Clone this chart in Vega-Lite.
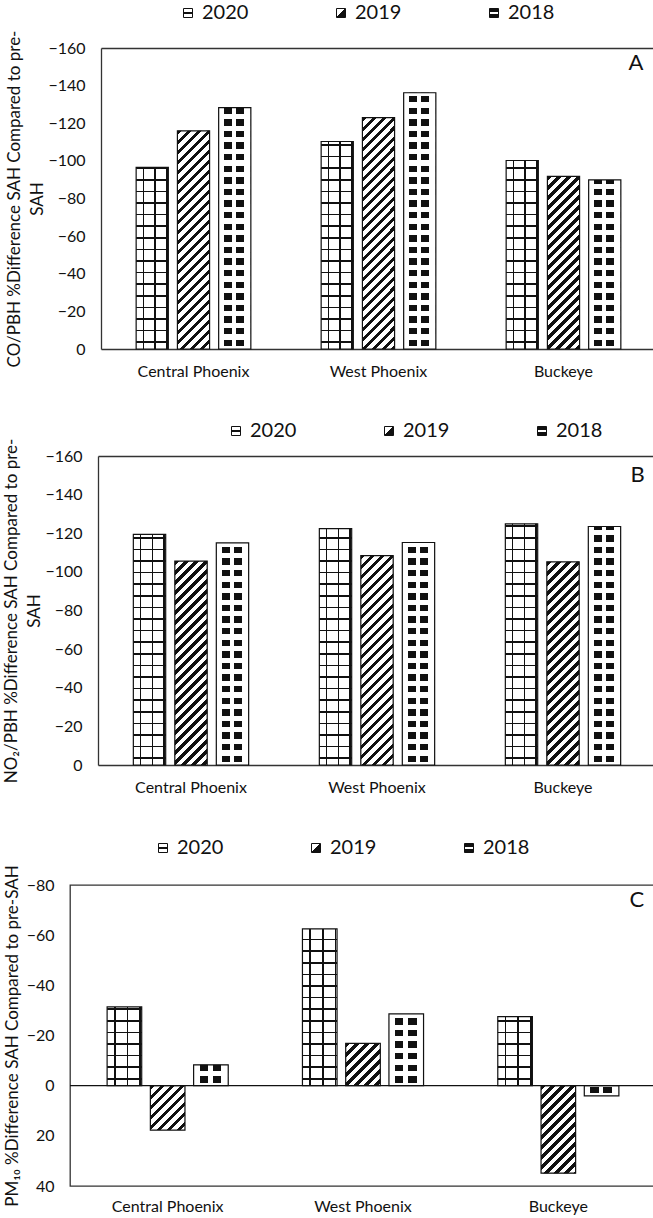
{
"$schema":"https://vega.github.io/schema/vega-lite/v6.json",
"padding":{"left":2,"top":3,"right":0,"bottom":0},
"spacing":42,
"params":[
{"name":"lg2020","value":{"gradient":"linear","x1":0,"y1":0,"x2":0,"y2":1,"stops":[{"offset":0,"color":"#fff"},{"offset":0.42,"color":"#fff"},{"offset":0.42,"color":"#111"},{"offset":0.58,"color":"#111"},{"offset":0.58,"color":"#fff"},{"offset":1,"color":"#fff"}]}},
{"name":"lg2019","value":{"gradient":"linear","x1":0,"y1":0,"x2":1,"y2":1,"stops":[{"offset":0,"color":"#fff"},{"offset":0.45,"color":"#fff"},{"offset":0.45,"color":"#111"},{"offset":1,"color":"#111"}]}},
{"name":"lg2018","value":{"gradient":"linear","x1":0,"y1":0,"x2":0,"y2":1,"stops":[{"offset":0,"color":"#111"},{"offset":0.4,"color":"#111"},{"offset":0.4,"color":"#fff"},{"offset":0.6,"color":"#fff"},{"offset":0.6,"color":"#111"},{"offset":1,"color":"#111"}]}},
{"name":"vgrid","value":{"gradient":"linear","x1":0,"y1":0,"x2":1,"y2":0,"stops":[{"offset":0,"color":"#fff"},{"offset":0.2,"color":"#fff"},{"offset":0.2,"color":"#111"},{"offset":0.245,"color":"#111"},{"offset":0.245,"color":"#fff"},{"offset":0.565,"color":"#fff"},{"offset":0.565,"color":"#111"},{"offset":0.61,"color":"#111"},{"offset":0.61,"color":"#fff"},{"offset":0.93,"color":"#fff"},{"offset":0.93,"color":"#111"},{"offset":0.975,"color":"#111"},{"offset":0.975,"color":"#fff"},{"offset":1,"color":"#fff"}]}},
{"name":"vdiam","value":{"gradient":"linear","x1":0,"y1":0,"x2":1,"y2":0,"stops":[{"offset":0,"color":"#fff"},{"offset":0.17,"color":"#fff"},{"offset":0.17,"color":"#111"},{"offset":0.42,"color":"#111"},{"offset":0.42,"color":"#fff"},{"offset":0.55,"color":"#fff"},{"offset":0.55,"color":"#111"},{"offset":0.8,"color":"#111"},{"offset":0.8,"color":"#fff"},{"offset":1,"color":"#fff"}]}},
{"name":"hline","value":[{"offset":0,"color":"transparent"},
{"offset":0.02,"color":"transparent"},{"offset":0.02,"color":"#111"},{"offset":0.0253,"color":"#111"},{"offset":0.0253,"color":"transparent"},
{"offset":0.0587,"color":"transparent"},{"offset":0.0587,"color":"#111"},{"offset":0.064,"color":"#111"},{"offset":0.064,"color":"transparent"},
{"offset":0.0973,"color":"transparent"},{"offset":0.0973,"color":"#111"},{"offset":0.1026,"color":"#111"},{"offset":0.1026,"color":"transparent"},
{"offset":0.136,"color":"transparent"},{"offset":0.136,"color":"#111"},{"offset":0.1413,"color":"#111"},{"offset":0.1413,"color":"transparent"},
{"offset":0.1747,"color":"transparent"},{"offset":0.1747,"color":"#111"},{"offset":0.18,"color":"#111"},{"offset":0.18,"color":"transparent"},
{"offset":0.2133,"color":"transparent"},{"offset":0.2133,"color":"#111"},{"offset":0.2186,"color":"#111"},{"offset":0.2186,"color":"transparent"},
{"offset":0.252,"color":"transparent"},{"offset":0.252,"color":"#111"},{"offset":0.2573,"color":"#111"},{"offset":0.2573,"color":"transparent"},
{"offset":0.2907,"color":"transparent"},{"offset":0.2907,"color":"#111"},{"offset":0.296,"color":"#111"},{"offset":0.296,"color":"transparent"},
{"offset":0.3293,"color":"transparent"},{"offset":0.3293,"color":"#111"},{"offset":0.3346,"color":"#111"},{"offset":0.3346,"color":"transparent"},
{"offset":0.368,"color":"transparent"},{"offset":0.368,"color":"#111"},{"offset":0.3733,"color":"#111"},{"offset":0.3733,"color":"transparent"},
{"offset":0.4067,"color":"transparent"},{"offset":0.4067,"color":"#111"},{"offset":0.412,"color":"#111"},{"offset":0.412,"color":"transparent"},
{"offset":0.4453,"color":"transparent"},{"offset":0.4453,"color":"#111"},{"offset":0.4506,"color":"#111"},{"offset":0.4506,"color":"transparent"},
{"offset":0.484,"color":"transparent"},{"offset":0.484,"color":"#111"},{"offset":0.4893,"color":"#111"},{"offset":0.4893,"color":"transparent"},
{"offset":0.5227,"color":"transparent"},{"offset":0.5227,"color":"#111"},{"offset":0.528,"color":"#111"},{"offset":0.528,"color":"transparent"},
{"offset":0.5613,"color":"transparent"},{"offset":0.5613,"color":"#111"},{"offset":0.5666,"color":"#111"},{"offset":0.5666,"color":"transparent"},
{"offset":0.6,"color":"transparent"},{"offset":0.6,"color":"#111"},{"offset":0.6053,"color":"#111"},{"offset":0.6053,"color":"transparent"},
{"offset":0.6387,"color":"transparent"},{"offset":0.6387,"color":"#111"},{"offset":0.644,"color":"#111"},{"offset":0.644,"color":"transparent"},
{"offset":0.6773,"color":"transparent"},{"offset":0.6773,"color":"#111"},{"offset":0.6826,"color":"#111"},{"offset":0.6826,"color":"transparent"},
{"offset":0.716,"color":"transparent"},{"offset":0.716,"color":"#111"},{"offset":0.7213,"color":"#111"},{"offset":0.7213,"color":"transparent"},
{"offset":0.7547,"color":"transparent"},{"offset":0.7547,"color":"#111"},{"offset":0.76,"color":"#111"},{"offset":0.76,"color":"transparent"},
{"offset":0.7933,"color":"transparent"},{"offset":0.7933,"color":"#111"},{"offset":0.7986,"color":"#111"},{"offset":0.7986,"color":"transparent"},
{"offset":0.832,"color":"transparent"},{"offset":0.832,"color":"#111"},{"offset":0.8373,"color":"#111"},{"offset":0.8373,"color":"transparent"},
{"offset":0.8707,"color":"transparent"},{"offset":0.8707,"color":"#111"},{"offset":0.876,"color":"#111"},{"offset":0.876,"color":"transparent"},
{"offset":0.9093,"color":"transparent"},{"offset":0.9093,"color":"#111"},{"offset":0.9146,"color":"#111"},{"offset":0.9146,"color":"transparent"},
{"offset":0.948,"color":"transparent"},{"offset":0.948,"color":"#111"},{"offset":0.9533,"color":"#111"},{"offset":0.9533,"color":"transparent"},
{"offset":0.9867,"color":"transparent"},{"offset":0.9867,"color":"#111"},{"offset":0.992,"color":"#111"},{"offset":0.992,"color":"transparent"},
{"offset":1,"color":"transparent"}]},
{"name":"hband","value":[{"offset":0,"color":"#fff"},
{"offset":0.01,"color":"#fff"},{"offset":0.01,"color":"transparent"},{"offset":0.0313,"color":"transparent"},{"offset":0.0313,"color":"#fff"},
{"offset":0.0487,"color":"#fff"},{"offset":0.0487,"color":"transparent"},{"offset":0.07,"color":"transparent"},{"offset":0.07,"color":"#fff"},
{"offset":0.0873,"color":"#fff"},{"offset":0.0873,"color":"transparent"},{"offset":0.1087,"color":"transparent"},{"offset":0.1087,"color":"#fff"},
{"offset":0.126,"color":"#fff"},{"offset":0.126,"color":"transparent"},{"offset":0.1473,"color":"transparent"},{"offset":0.1473,"color":"#fff"},
{"offset":0.1647,"color":"#fff"},{"offset":0.1647,"color":"transparent"},{"offset":0.186,"color":"transparent"},{"offset":0.186,"color":"#fff"},
{"offset":0.2033,"color":"#fff"},{"offset":0.2033,"color":"transparent"},{"offset":0.2247,"color":"transparent"},{"offset":0.2247,"color":"#fff"},
{"offset":0.242,"color":"#fff"},{"offset":0.242,"color":"transparent"},{"offset":0.2633,"color":"transparent"},{"offset":0.2633,"color":"#fff"},
{"offset":0.2807,"color":"#fff"},{"offset":0.2807,"color":"transparent"},{"offset":0.302,"color":"transparent"},{"offset":0.302,"color":"#fff"},
{"offset":0.3193,"color":"#fff"},{"offset":0.3193,"color":"transparent"},{"offset":0.3407,"color":"transparent"},{"offset":0.3407,"color":"#fff"},
{"offset":0.358,"color":"#fff"},{"offset":0.358,"color":"transparent"},{"offset":0.3793,"color":"transparent"},{"offset":0.3793,"color":"#fff"},
{"offset":0.3967,"color":"#fff"},{"offset":0.3967,"color":"transparent"},{"offset":0.418,"color":"transparent"},{"offset":0.418,"color":"#fff"},
{"offset":0.4353,"color":"#fff"},{"offset":0.4353,"color":"transparent"},{"offset":0.4567,"color":"transparent"},{"offset":0.4567,"color":"#fff"},
{"offset":0.474,"color":"#fff"},{"offset":0.474,"color":"transparent"},{"offset":0.4953,"color":"transparent"},{"offset":0.4953,"color":"#fff"},
{"offset":0.5127,"color":"#fff"},{"offset":0.5127,"color":"transparent"},{"offset":0.534,"color":"transparent"},{"offset":0.534,"color":"#fff"},
{"offset":0.5513,"color":"#fff"},{"offset":0.5513,"color":"transparent"},{"offset":0.5727,"color":"transparent"},{"offset":0.5727,"color":"#fff"},
{"offset":0.59,"color":"#fff"},{"offset":0.59,"color":"transparent"},{"offset":0.6113,"color":"transparent"},{"offset":0.6113,"color":"#fff"},
{"offset":0.6287,"color":"#fff"},{"offset":0.6287,"color":"transparent"},{"offset":0.65,"color":"transparent"},{"offset":0.65,"color":"#fff"},
{"offset":0.6673,"color":"#fff"},{"offset":0.6673,"color":"transparent"},{"offset":0.6887,"color":"transparent"},{"offset":0.6887,"color":"#fff"},
{"offset":0.706,"color":"#fff"},{"offset":0.706,"color":"transparent"},{"offset":0.7273,"color":"transparent"},{"offset":0.7273,"color":"#fff"},
{"offset":0.7447,"color":"#fff"},{"offset":0.7447,"color":"transparent"},{"offset":0.766,"color":"transparent"},{"offset":0.766,"color":"#fff"},
{"offset":0.7833,"color":"#fff"},{"offset":0.7833,"color":"transparent"},{"offset":0.8047,"color":"transparent"},{"offset":0.8047,"color":"#fff"},
{"offset":0.822,"color":"#fff"},{"offset":0.822,"color":"transparent"},{"offset":0.8433,"color":"transparent"},{"offset":0.8433,"color":"#fff"},
{"offset":0.8607,"color":"#fff"},{"offset":0.8607,"color":"transparent"},{"offset":0.882,"color":"transparent"},{"offset":0.882,"color":"#fff"},
{"offset":0.8993,"color":"#fff"},{"offset":0.8993,"color":"transparent"},{"offset":0.9207,"color":"transparent"},{"offset":0.9207,"color":"#fff"},
{"offset":0.938,"color":"#fff"},{"offset":0.938,"color":"transparent"},{"offset":0.9593,"color":"transparent"},{"offset":0.9593,"color":"#fff"},
{"offset":0.9767,"color":"#fff"},{"offset":0.9767,"color":"transparent"},{"offset":0.998,"color":"transparent"},{"offset":0.998,"color":"#fff"},
{"offset":1,"color":"#fff"}]},
{"name":"dstops","value":[{"offset":0,"color":"#111"},{"offset":0.0141,"color":"#111"},{"offset":0.0141,"color":"#fff"},
{"offset":0.0313,"color":"#fff"},{"offset":0.0313,"color":"#111"},{"offset":0.0453,"color":"#111"},{"offset":0.0453,"color":"#fff"},
{"offset":0.0625,"color":"#fff"},{"offset":0.0625,"color":"#111"},{"offset":0.0766,"color":"#111"},{"offset":0.0766,"color":"#fff"},
{"offset":0.0938,"color":"#fff"},{"offset":0.0938,"color":"#111"},{"offset":0.1078,"color":"#111"},{"offset":0.1078,"color":"#fff"},
{"offset":0.125,"color":"#fff"},{"offset":0.125,"color":"#111"},{"offset":0.1391,"color":"#111"},{"offset":0.1391,"color":"#fff"},
{"offset":0.1563,"color":"#fff"},{"offset":0.1563,"color":"#111"},{"offset":0.1703,"color":"#111"},{"offset":0.1703,"color":"#fff"},
{"offset":0.1875,"color":"#fff"},{"offset":0.1875,"color":"#111"},{"offset":0.2016,"color":"#111"},{"offset":0.2016,"color":"#fff"},
{"offset":0.2188,"color":"#fff"},{"offset":0.2188,"color":"#111"},{"offset":0.2328,"color":"#111"},{"offset":0.2328,"color":"#fff"},
{"offset":0.25,"color":"#fff"},{"offset":0.25,"color":"#111"},{"offset":0.2641,"color":"#111"},{"offset":0.2641,"color":"#fff"},
{"offset":0.2813,"color":"#fff"},{"offset":0.2813,"color":"#111"},{"offset":0.2953,"color":"#111"},{"offset":0.2953,"color":"#fff"},
{"offset":0.3125,"color":"#fff"},{"offset":0.3125,"color":"#111"},{"offset":0.3266,"color":"#111"},{"offset":0.3266,"color":"#fff"},
{"offset":0.3438,"color":"#fff"},{"offset":0.3438,"color":"#111"},{"offset":0.3578,"color":"#111"},{"offset":0.3578,"color":"#fff"},
{"offset":0.375,"color":"#fff"},{"offset":0.375,"color":"#111"},{"offset":0.3891,"color":"#111"},{"offset":0.3891,"color":"#fff"},
{"offset":0.4063,"color":"#fff"},{"offset":0.4063,"color":"#111"},{"offset":0.4203,"color":"#111"},{"offset":0.4203,"color":"#fff"},
{"offset":0.4375,"color":"#fff"},{"offset":0.4375,"color":"#111"},{"offset":0.4516,"color":"#111"},{"offset":0.4516,"color":"#fff"},
{"offset":0.4688,"color":"#fff"},{"offset":0.4688,"color":"#111"},{"offset":0.4828,"color":"#111"},{"offset":0.4828,"color":"#fff"},
{"offset":0.5,"color":"#fff"},{"offset":0.5,"color":"#111"},{"offset":0.5141,"color":"#111"},{"offset":0.5141,"color":"#fff"},
{"offset":0.5313,"color":"#fff"},{"offset":0.5313,"color":"#111"},{"offset":0.5453,"color":"#111"},{"offset":0.5453,"color":"#fff"},
{"offset":0.5625,"color":"#fff"},{"offset":0.5625,"color":"#111"},{"offset":0.5766,"color":"#111"},{"offset":0.5766,"color":"#fff"},
{"offset":0.5938,"color":"#fff"},{"offset":0.5938,"color":"#111"},{"offset":0.6078,"color":"#111"},{"offset":0.6078,"color":"#fff"},
{"offset":0.625,"color":"#fff"},{"offset":0.625,"color":"#111"},{"offset":0.6391,"color":"#111"},{"offset":0.6391,"color":"#fff"},
{"offset":0.6563,"color":"#fff"},{"offset":0.6563,"color":"#111"},{"offset":0.6703,"color":"#111"},{"offset":0.6703,"color":"#fff"},
{"offset":0.6875,"color":"#fff"},{"offset":0.6875,"color":"#111"},{"offset":0.7016,"color":"#111"},{"offset":0.7016,"color":"#fff"},
{"offset":0.7188,"color":"#fff"},{"offset":0.7188,"color":"#111"},{"offset":0.7328,"color":"#111"},{"offset":0.7328,"color":"#fff"},
{"offset":0.75,"color":"#fff"},{"offset":0.75,"color":"#111"},{"offset":0.7641,"color":"#111"},{"offset":0.7641,"color":"#fff"},
{"offset":0.7813,"color":"#fff"},{"offset":0.7813,"color":"#111"},{"offset":0.7953,"color":"#111"},{"offset":0.7953,"color":"#fff"},
{"offset":0.8125,"color":"#fff"},{"offset":0.8125,"color":"#111"},{"offset":0.8266,"color":"#111"},{"offset":0.8266,"color":"#fff"},
{"offset":0.8438,"color":"#fff"},{"offset":0.8438,"color":"#111"},{"offset":0.8578,"color":"#111"},{"offset":0.8578,"color":"#fff"},
{"offset":0.875,"color":"#fff"},{"offset":0.875,"color":"#111"},{"offset":0.8891,"color":"#111"},{"offset":0.8891,"color":"#fff"},
{"offset":0.9063,"color":"#fff"},{"offset":0.9063,"color":"#111"},{"offset":0.9203,"color":"#111"},{"offset":0.9203,"color":"#fff"},
{"offset":0.9375,"color":"#fff"},{"offset":0.9375,"color":"#111"},{"offset":0.9516,"color":"#111"},{"offset":0.9516,"color":"#fff"},
{"offset":0.9688,"color":"#fff"},{"offset":0.9688,"color":"#111"},{"offset":0.9828,"color":"#111"},{"offset":0.9828,"color":"#fff"},
{"offset":1,"color":"#fff"}]}
],
"resolve":{"scale":{"fill":"independent","x":"independent","y":"independent","xOffset":"independent"},"legend":{"fill":"independent"}},
"vconcat":[
{
"width":586,"height":301,"view":{"stroke":null},
"resolve":{"axis":{"x":"independent"}},
"data":{"values":[
{"site":"Central Phoenix","year":2020,"value":-96.5},{"site":"Central Phoenix","year":2019,"value":-116},{"site":"Central Phoenix","year":2018,"value":-128.3},
{"site":"West Phoenix","year":2020,"value":-110.3},{"site":"West Phoenix","year":2019,"value":-123},{"site":"West Phoenix","year":2018,"value":-136.2},
{"site":"Buckeye","year":2020,"value":-100.2},{"site":"Buckeye","year":2019,"value":-91.8},{"site":"Buckeye","year":2018,"value":-89.9}]},
"layer":[
{"mark":{"type":"bar"},
"encoding":{
"x":{"field":"site","type":"nominal","scale":{"domain":["Central Phoenix","West Phoenix","Buckeye"],"range":[31,586],"paddingInner":0.38,"paddingOuter":0.19},"axis":{"title":null,"labelAngle":0,"labelPadding":14,"domain":true,"domainColor":"#333","domainWidth":1.3}},
"xOffset":{"field":"year","type":"nominal","scale":{"domain":[2020,2019,2018],"paddingInner":0.22,"paddingOuter":0}},
"y":{"field":"value","type":"quantitative","scale":{"domain":[-160,0],"reverse":true,"nice":false},"axis":{"values":[-160,-140,-120,-100,-80,-60,-40,-20,0],"tickCount":12,"offset":-31,"domain":true,"domainColor":"#333","domainWidth":1.3,"title":["CO/PBH %Difference SAH Compared to pre-","SAH"],"labelPadding":16,"titlePadding":1,"titleLineHeight":23,"labelFlush":false,"labelOverlap":false}},
"fill":{"field":"year","type":"nominal","scale":{"domain":[2020,2019,2018],"range":[{"expr":"lg2020"},{"expr":"lg2019"},{"expr":"lg2018"}]},
"legend":{"title":null,"orient":"none","legendX":108,"legendY":-45,"direction":"horizontal","symbolType":"square","symbolSize":81,"symbolStrokeColor":"#111","symbolStrokeWidth":1,"labelFontSize":20,"labelFont":"Lato","labelOffset":4,"columnPadding":82,"labelColor":"#111"}}}},
{"mark":{"type":"bar","fill":{"expr":"datum.year == 2019 ? {gradient: 'linear', x1: 0, y1: 0, x2: 320 * 32.2 / (1036.8 + pow(abs(datum.value) * 1.88125, 2)), y2: 320 * abs(datum.value) * 1.88125 / (1036.8 + pow(abs(datum.value) * 1.88125, 2)), stops: dstops} : (datum.year == 2020 ? vgrid : vdiam)"}},
"encoding":{"x":{"field":"site","type":"nominal","axis":{"orient":"top","labels":false,"ticks":false,"title":null,"domain":true,"domainColor":"#333","domainWidth":1.3}},"xOffset":{"field":"year","type":"nominal"},"y":{"field":"value","type":"quantitative"}}},
{"mark":{"type":"bar","stroke":"#111","strokeWidth":1.2,"fill":{"expr":"datum.year == 2019 ? 'transparent' : {gradient: 'linear', x1: 0, y1: 1, x2: 0, y2: 1 - 300 / (abs(datum.value) * 1.88125), stops: datum.year == 2020 ? hline : hband}"}},
"encoding":{"x":{"field":"site","type":"nominal","axis":null},"xOffset":{"field":"year","type":"nominal"},"y":{"field":"value","type":"quantitative"}}},
{"data":{"values":[{}]},"mark":{"type":"text","font":"Lato","fontSize":22,"align":"center","baseline":"middle","dx":15,"color":"#111"},"encoding":{"x":{"datum":"Buckeye","type":"nominal","bandPosition":1,"axis":null},"y":{"datum":-152,"type":"quantitative"},"text":{"value":"A"}}}
]},
{
"width":586,"height":309,"view":{"stroke":null},
"resolve":{"axis":{"x":"independent"}},
"data":{"values":[
{"site":"Central Phoenix","year":2020,"value":-119.4},{"site":"Central Phoenix","year":2019,"value":-105.6},{"site":"Central Phoenix","year":2018,"value":-115},
{"site":"West Phoenix","year":2020,"value":-122.4},{"site":"West Phoenix","year":2019,"value":-108.4},{"site":"West Phoenix","year":2018,"value":-115.2},
{"site":"Buckeye","year":2020,"value":-124.9},{"site":"Buckeye","year":2019,"value":-105.2},{"site":"Buckeye","year":2018,"value":-123.5}]},
"layer":[
{"mark":{"type":"bar"},
"encoding":{
"x":{"field":"site","type":"nominal","scale":{"domain":["Central Phoenix","West Phoenix","Buckeye"],"range":[28,586],"paddingInner":0.38,"paddingOuter":0.19},"axis":{"title":null,"labelAngle":0,"labelPadding":14,"domain":true,"domainColor":"#333","domainWidth":1.3}},
"xOffset":{"field":"year","type":"nominal","scale":{"domain":[2020,2019,2018],"paddingInner":0.22,"paddingOuter":0}},
"y":{"field":"value","type":"quantitative","scale":{"domain":[-160,0],"reverse":true,"nice":false},"axis":{"values":[-160,-140,-120,-100,-80,-60,-40,-20,0],"tickCount":12,"offset":-28,"domain":true,"domainColor":"#333","domainWidth":1.3,"title":["NO₂/PBH %Difference SAH Compared to pre-","SAH"],"labelPadding":16,"titlePadding":1,"titleLineHeight":23,"labelFlush":false,"labelOverlap":false}},
"fill":{"field":"year","type":"nominal","scale":{"domain":[2020,2019,2018],"range":[{"expr":"lg2020"},{"expr":"lg2019"},{"expr":"lg2018"}]},
"legend":{"title":null,"orient":"none","legendX":156,"legendY":-35,"direction":"horizontal","symbolType":"square","symbolSize":81,"symbolStrokeColor":"#111","symbolStrokeWidth":1,"labelFontSize":20,"labelFont":"Lato","labelOffset":4,"columnPadding":82,"labelColor":"#111"}}}},
{"mark":{"type":"bar","fill":{"expr":"datum.year == 2019 ? {gradient: 'linear', x1: 0, y1: 0, x2: 320 * 32.4 / (1049.8 + pow(abs(datum.value) * 1.93125, 2)), y2: 320 * abs(datum.value) * 1.93125 / (1049.8 + pow(abs(datum.value) * 1.93125, 2)), stops: dstops} : (datum.year == 2020 ? vgrid : vdiam)"}},
"encoding":{"x":{"field":"site","type":"nominal","axis":{"orient":"top","labels":false,"ticks":false,"title":null,"domain":true,"domainColor":"#333","domainWidth":1.3}},"xOffset":{"field":"year","type":"nominal"},"y":{"field":"value","type":"quantitative"}}},
{"mark":{"type":"bar","stroke":"#111","strokeWidth":1.2,"fill":{"expr":"datum.year == 2019 ? 'transparent' : {gradient: 'linear', x1: 0, y1: 1, x2: 0, y2: 1 - 300 / (abs(datum.value) * 1.93125), stops: datum.year == 2020 ? hline : hband}"}},
"encoding":{"x":{"field":"site","type":"nominal","axis":null},"xOffset":{"field":"year","type":"nominal"},"y":{"field":"value","type":"quantitative"}}},
{"data":{"values":[{}]},"mark":{"type":"text","font":"Lato","fontSize":22,"align":"center","baseline":"middle","dx":17,"color":"#111"},"encoding":{"x":{"datum":"Buckeye","type":"nominal","bandPosition":1,"axis":null},"y":{"datum":-150,"type":"quantitative"},"text":{"value":"B"}}}
]},
{
"width":586,"height":301,
"data":{"values":[
{"site":"Central Phoenix","year":2020,"value":-31.4},{"site":"Central Phoenix","year":2019,"value":17.7},{"site":"Central Phoenix","year":2018,"value":-8.3},
{"site":"West Phoenix","year":2020,"value":-62.5},{"site":"West Phoenix","year":2019,"value":-16.9},{"site":"West Phoenix","year":2018,"value":-28.6},
{"site":"Buckeye","year":2020,"value":-27.5},{"site":"Buckeye","year":2019,"value":34.9},{"site":"Buckeye","year":2018,"value":4.1}]},
"layer":[
{"mark":{"type":"bar"},
"encoding":{
"x":{"field":"site","type":"nominal","scale":{"domain":["Central Phoenix","West Phoenix","Buckeye"],"paddingInner":0.38,"paddingOuter":0.19},"axis":{"title":null,"labelAngle":0,"labelPadding":12}},
"xOffset":{"field":"year","type":"nominal","scale":{"domain":[2020,2019,2018],"paddingInner":0.2,"paddingOuter":0}},
"y":{"field":"value","type":"quantitative","scale":{"domain":[-80,40],"reverse":true,"nice":false},"axis":{"values":[-80,-60,-40,-20,0,20,40],"tickCount":12,"title":"PM₁₀ %Difference SAH Compared to pre-SAH","labelPadding":16,"titlePadding":5,"labelFlush":false,"labelOverlap":false}},
"fill":{"field":"year","type":"nominal","scale":{"domain":[2020,2019,2018],"range":[{"expr":"lg2020"},{"expr":"lg2019"},{"expr":"lg2018"}]},
"legend":{"title":null,"orient":"none","legendX":83,"legendY":-47,"direction":"horizontal","symbolType":"square","symbolSize":81,"symbolStrokeColor":"#111","symbolStrokeWidth":1,"labelFontSize":20,"labelFont":"Lato","labelOffset":4,"columnPadding":82,"labelColor":"#111"}}}},
{"mark":{"type":"bar","fill":{"expr":"datum.year == 2019 ? {gradient: 'linear', x1: 0, y1: 0, x2: 320 * 34.6 / (1197.2 + pow(abs(datum.value) * 2.50833, 2)), y2: 320 * abs(datum.value) * 2.50833 / (1197.2 + pow(abs(datum.value) * 2.50833, 2)), stops: dstops} : (datum.year == 2020 ? vgrid : vdiam)"}},
"encoding":{"x":{"field":"site","type":"nominal"},"xOffset":{"field":"year","type":"nominal"},"y":{"field":"value","type":"quantitative"}}},
{"mark":{"type":"bar","stroke":"#111","strokeWidth":1.2,"fill":{"expr":"datum.year == 2019 ? 'transparent' : {gradient: 'linear', x1: 0, y1: 1, x2: 0, y2: 1 - 300 / (abs(datum.value) * 2.50833), stops: datum.year == 2020 ? hline : hband}"}},
"encoding":{"x":{"field":"site","type":"nominal"},"xOffset":{"field":"year","type":"nominal"},"y":{"field":"value","type":"quantitative"}}},
{"data":{"values":[{}]},"mark":{"type":"rule","color":"#111","strokeWidth":1.3},"encoding":{"y":{"datum":0,"type":"quantitative"}}},
{"data":{"values":[{}]},"mark":{"type":"text","font":"Lato","fontSize":22,"align":"center","baseline":"middle","dx":18,"color":"#111"},"encoding":{"x":{"datum":"Buckeye","type":"nominal","bandPosition":1},"y":{"datum":-74,"type":"quantitative"},"text":{"value":"C"}}}
]}
],
"config":{
"font":"Lato",
"view":{"stroke":"#333","strokeWidth":1.3},
"axis":{"labelFont":"Lato","titleFont":"Lato","labelColor":"#111","titleColor":"#111","ticks":false,"domain":false,"grid":false,"labelFontSize":16,"titleFontSize":17,"titleFontWeight":"normal","labelOverlap":false}
}
}
